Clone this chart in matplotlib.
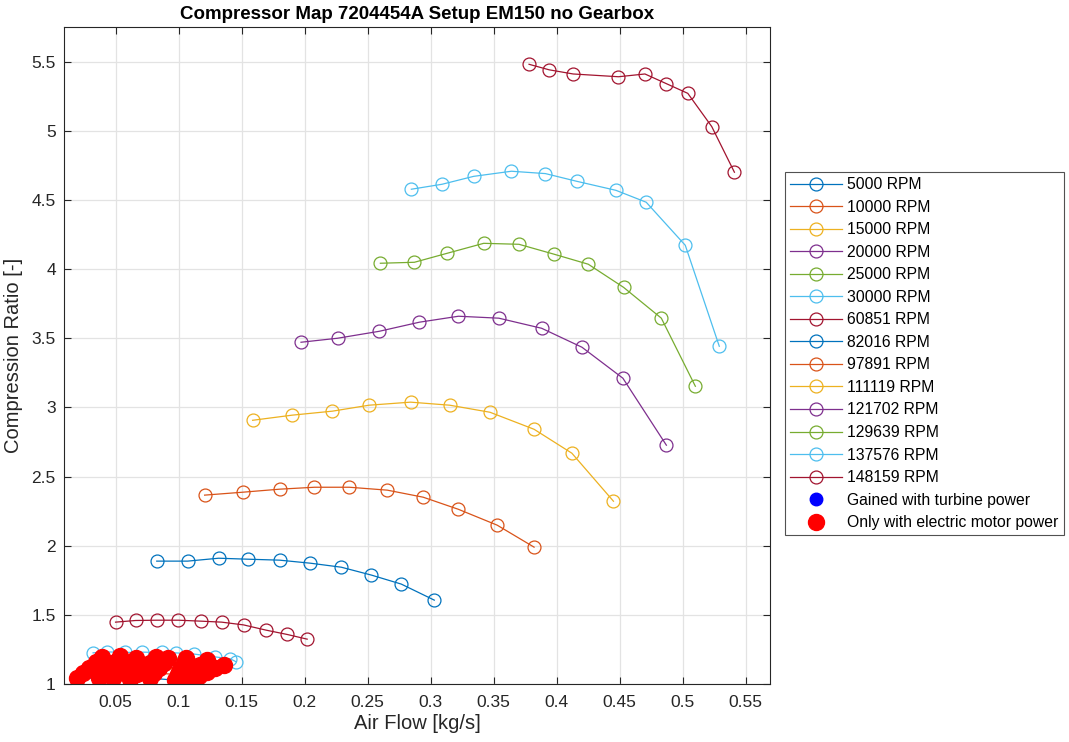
import matplotlib
matplotlib.use("Agg")
import matplotlib.pyplot as plt
from matplotlib.ticker import FuncFormatter

plt.rcParams['font.family'] = ['Liberation Sans', 'DejaVu Sans']

# low speed lines (mostly hidden under the red dots)
rpm_low = ["5000 RPM", "10000 RPM", "15000 RPM", "20000 RPM", "25000 RPM"]
low_x = [
    [0.019, 0.0365, 0.0476, 0.0611, 0.077, 0.0968, 0.102, 0.110],
    [0.024, 0.040, 0.052, 0.067, 0.080, 0.099, 0.107, 0.116],
    [0.029, 0.044, 0.057, 0.072, 0.084, 0.101, 0.112, 0.122],
    [0.034, 0.049, 0.061, 0.077, 0.088, 0.104, 0.117, 0.129],
    [0.0387, 0.0532, 0.0658, 0.0822, 0.0914, 0.106, 0.122, 0.1356],
]
low_y = [
    [1.043, 1.043, 1.043, 1.036, 1.043, 1.029, 1.030, 1.035],
    [1.080, 1.080, 1.080, 1.075, 1.080, 1.070, 1.065, 1.060],
    [1.120, 1.120, 1.115, 1.115, 1.115, 1.110, 1.100, 1.090],
    [1.160, 1.160, 1.150, 1.155, 1.150, 1.150, 1.140, 1.115],
    [1.195, 1.200, 1.188, 1.195, 1.188, 1.188, 1.173, 1.140],
]

rpm_30000_x = [0.032, 0.0431, 0.0574, 0.0708, 0.087, 0.0975, 0.1124, 0.1287, 0.1409, 0.1456]
rpm_30000_y = [1.226, 1.233, 1.229, 1.231, 1.229, 1.226, 1.217, 1.197, 1.183, 1.161]

rpm_60851_x = [0.0498, 0.0658, 0.0825, 0.0997, 0.1179, 0.134, 0.1514, 0.1694, 0.186, 0.2019]
rpm_60851_y = [1.448, 1.460, 1.462, 1.462, 1.455, 1.448, 1.428, 1.390, 1.359, 1.325]

rpm_82016_x = [0.0825, 0.107, 0.1316, 0.1546, 0.180, 0.2045, 0.229, 0.2529, 0.2766, 0.3028]
rpm_82016_y = [1.889, 1.889, 1.910, 1.903, 1.896, 1.874, 1.845, 1.788, 1.723, 1.607]

rpm_97891_x = [0.1205, 0.1506, 0.180, 0.2077, 0.2354, 0.2655, 0.294, 0.3218, 0.3527, 0.382]
rpm_97891_y = [2.366, 2.387, 2.409, 2.423, 2.423, 2.402, 2.351, 2.264, 2.149, 1.990]

rpm_111119_x = [0.1586, 0.190, 0.222, 0.251, 0.284, 0.315, 0.347, 0.382, 0.412, 0.445]
rpm_111119_y = [2.907, 2.944, 2.973, 3.016, 3.038, 3.016, 2.965, 2.842, 2.669, 2.322]

rpm_121702_x = [0.197, 0.226, 0.259, 0.291, 0.322, 0.354, 0.388, 0.420, 0.4525, 0.487]
rpm_121702_y = [3.471, 3.500, 3.550, 3.616, 3.659, 3.645, 3.572, 3.435, 3.211, 2.727]

rpm_129639_x = [0.260, 0.287, 0.313, 0.342, 0.370, 0.398, 0.425, 0.453, 0.483, 0.510]
rpm_129639_y = [4.042, 4.049, 4.114, 4.186, 4.179, 4.107, 4.035, 3.868, 3.645, 3.153]

rpm_137576_x = [0.2846, 0.309, 0.334, 0.364, 0.391, 0.416, 0.447, 0.471, 0.502, 0.529]
rpm_137576_y = [4.577, 4.613, 4.670, 4.707, 4.690, 4.634, 4.569, 4.483, 4.172, 3.442]

rpm_148159_x = [0.378, 0.394, 0.413, 0.449, 0.470, 0.487, 0.504, 0.523, 0.541]
rpm_148159_y = [5.48, 5.44, 5.41, 5.39, 5.41, 5.34, 5.27, 5.03, 4.70]

colors = ["#0072BD", "#D95319", "#EDB120", "#7E2F8E", "#77AC30", "#4DBEEE", "#A2142F"]

fig = plt.figure(figsize=(10.69, 7.42), dpi=100)
ax = fig.add_axes([0.060, 0.078, 0.660, 0.8857])

mk = dict(marker='o', markerfacecolor='none', markersize=9.3, markeredgewidth=0.9, linewidth=0.9)

for i in range(5):
    ax.plot(low_x[i], low_y[i], color=colors[i], label=rpm_low[i], **mk)
ax.plot(rpm_30000_x, rpm_30000_y, color=colors[5], label="30000 RPM", **mk)
ax.plot(rpm_60851_x, rpm_60851_y, color=colors[6], label="60851 RPM", **mk)
ax.plot(rpm_82016_x, rpm_82016_y, color=colors[0], label="82016 RPM", **mk)
ax.plot(rpm_97891_x, rpm_97891_y, color=colors[1], label="97891 RPM", **mk)
ax.plot(rpm_111119_x, rpm_111119_y, color=colors[2], label="111119 RPM", **mk)
ax.plot(rpm_121702_x, rpm_121702_y, color=colors[3], label="121702 RPM", **mk)
ax.plot(rpm_129639_x, rpm_129639_y, color=colors[4], label="129639 RPM", **mk)
ax.plot(rpm_137576_x, rpm_137576_y, color=colors[5], label="137576 RPM", **mk)
ax.plot(rpm_148159_x, rpm_148159_y, color=colors[6], label="148159 RPM", **mk)

# operating points: none reached with turbine power, all low ones only with the e-motor
ax.plot([], [], 'o', color='blue', markersize=9, label="Gained with turbine power")
red_x = [x for row in low_x for x in row]
red_y = [y for row in low_y for y in row]
ax.plot(red_x, red_y, 'o', color='red', markersize=11.5, linestyle='none',
        label="Only with electric motor power")

ax.set_xlim(0.009, 0.569)
ax.set_ylim(1, 5.75)
ax.set_xticks([0.05, 0.1, 0.15, 0.2, 0.25, 0.3, 0.35, 0.4, 0.45, 0.5, 0.55])
ax.set_yticks([1, 1.5, 2, 2.5, 3, 3.5, 4, 4.5, 5, 5.5])
fmt = FuncFormatter(lambda v, p: "%g" % v)
ax.xaxis.set_major_formatter(fmt)
ax.yaxis.set_major_formatter(fmt)
ax.tick_params(direction='in', top=True, right=True, labelsize=12.5, length=5, color='#262626',
               labelcolor='#262626')
ax.tick_params(axis='x', pad=8)
ax.tick_params(axis='y', pad=6)
ax.grid(True, color='#e3e3e3', linewidth=0.9)
ax.set_axisbelow(True)
for s in ax.spines.values():
    s.set_color('#262626')
    s.set_linewidth(0.8)

ax.set_xlabel("Air Flow [kg/s]", fontsize=14.5, color='#262626', labelpad=3)
ax.set_ylabel("Compression Ratio [-]", fontsize=14.5, color='#262626', labelpad=6)
ax.set_title("Compressor Map 7204454A Setup EM150 no Gearbox", fontsize=13.5, fontweight='bold',
             family=['Liberation Sans Narrow', 'Liberation Sans'], pad=6)

leg = ax.legend(loc='upper left', bbox_to_anchor=(0.7343, 0.768), bbox_transform=fig.transFigure,
                fontsize=11.3, frameon=True, fancybox=False, edgecolor='#262626',
                handlelength=3.3, labelspacing=0.48, borderpad=0.32, handletextpad=0.35,
                borderaxespad=0)
leg.get_frame().set_linewidth(0.8)

fig.savefig("out.png", dpi=100)
